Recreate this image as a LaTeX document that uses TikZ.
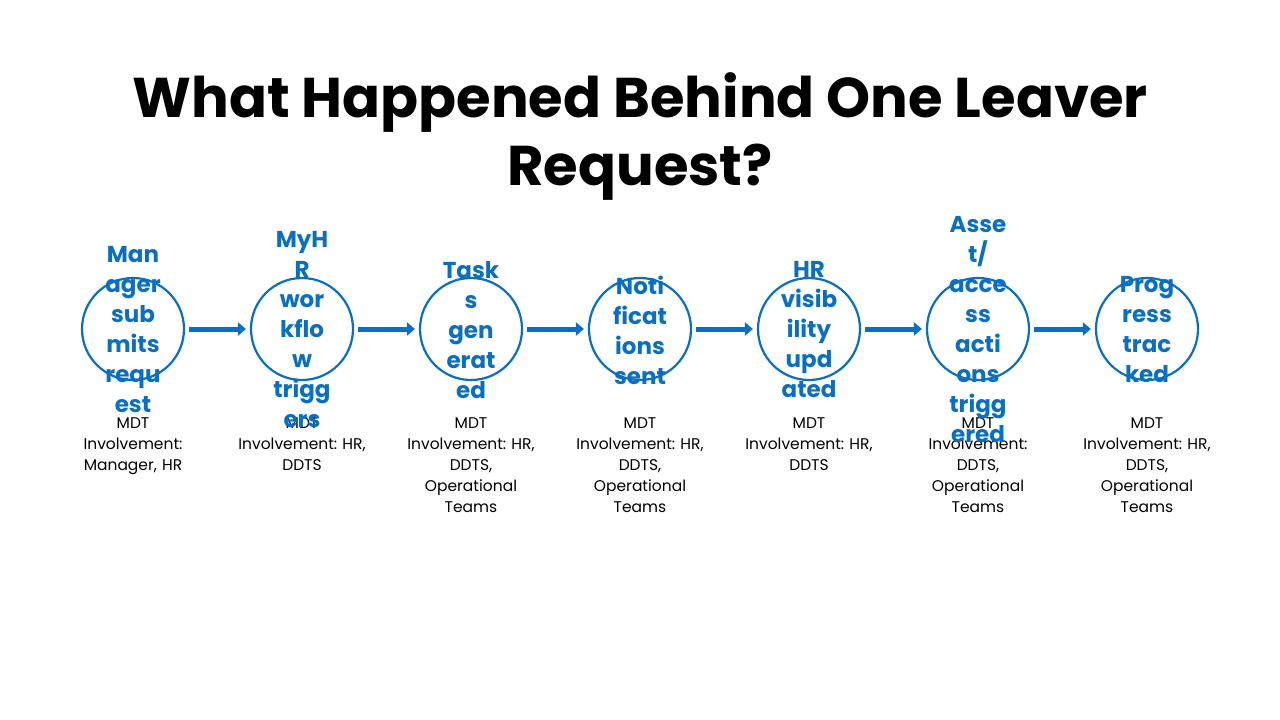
\documentclass[tikz,border=0pt]{standalone}
\usepackage{fontspec}
\setmainfont{Poppins}
\usetikzlibrary{arrows.meta}
\definecolor{blu}{HTML}{0A6FC2}
\begin{document}
\begin{tikzpicture}[x=1pt,y=-1pt,
  stepc/.style={circle,draw=blu,line width=2.2pt,fill=white,minimum size=102pt,inner sep=0pt},
  lab/.style={text=blu,font=\fontsize{23}{30}\selectfont\bfseries,align=center},
  inv/.style={anchor=north,font=\fontsize{15.5}{21}\selectfont,align=center,text width=150pt},
  arr/.style={-{Triangle[length=8pt,width=13pt]},blu,line width=5pt,shorten <=4pt,shorten >=4pt}]
\useasboundingbox (0,0) rectangle (1280,720);
\node[font=\fontsize{56}{68}\selectfont\bfseries,align=center] (title) at (640,137) {What Happened Behind One Leaver\\Request?};
\foreach \i/\x/\t/\m in {
 1/133/{Man\\ager\\sub\\mits\\requ\\est}/{MDT\\Involvement:\\Manager, HR},
 2/302/{MyH\\R\\wor\\kflo\\w\\trigg\\ers}/{MDT\\Involvement:~HR,\\DDTS},
 3/471/{Task\\s\\gen\\erat\\ed}/{MDT\\Involvement:~HR,\\DDTS,\\Operational\\Teams},
 4/640/{Noti\\ficat\\ions\\sent}/{MDT\\Involvement:~HR,\\DDTS,\\Operational\\Teams},
 5/809/{HR\\visib\\ility\\upd\\ated}/{MDT\\Involvement:~HR,\\DDTS},
 6/978/{Asse\\t/\\acce\\ss\\acti\\ons\\trigg\\ered}/{MDT\\Involvement:\\DDTS,\\Operational\\Teams},
 7/1147/{Prog\\ress\\trac\\ked}/{MDT\\Involvement:~HR,\\DDTS,\\Operational\\Teams}}{
 \node[stepc] (c\i) at (\x,329) {};
 \node[inv] (m\i) at (\x,414) {\m};
 \node[lab] (t\i) at (\x,330) {\t};
}
\foreach \a/\b in {1/2,2/3,3/4,4/5,5/6,6/7}{\draw[arr] (c\a) -- (c\b);}
\end{tikzpicture}
\end{document}
